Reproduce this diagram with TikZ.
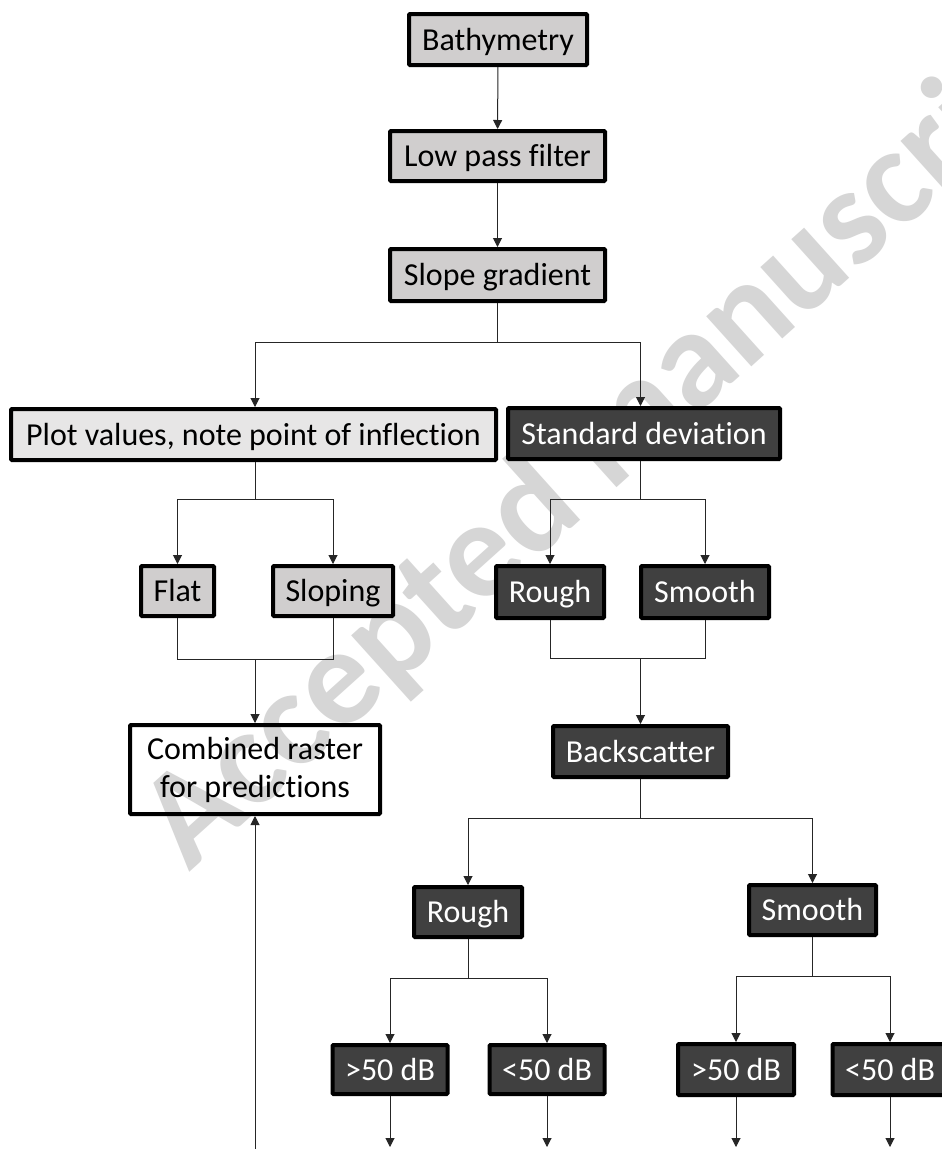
\documentclass[tikz,border=0pt]{standalone}
\usepackage{fontspec}
\setmainfont{Carlito}[Ligatures=NoCommon]
\usetikzlibrary{arrows.meta,calc}
\definecolor{lightbox}{HTML}{D0CECE}
\definecolor{palebox}{HTML}{E7E6E6}
\definecolor{darkbox}{HTML}{404040}
\definecolor{wmgray}{HTML}{D6D6D6}
\begin{document}
\begin{tikzpicture}[x=1pt,y=-1pt,
  box/.style={draw=black,line width=4pt,inner sep=0pt,rounded corners=1pt,
    font=\fontsize{32}{38}\selectfont},
  one/.style={box,text height=26pt,text depth=5pt},
  lbox/.style={one,fill=lightbox,text=black},
  pbox/.style={one,fill=palebox,text=black},
  wbox/.style={box,align=center,text=black},
  dbox/.style={one,fill=darkbox,text=white},
  conn/.style={draw=black!85,line width=1pt},
  arr/.style={conn,-{Triangle[length=9pt,width=9pt]}},
  wmark/.style={font=\fontsize{139}{139}\selectfont\bfseries,text=wmgray,inner sep=0pt,anchor=base west,rotate=42}]
\useasboundingbox (0,0) rectangle (942,1149);
\fill[white] (0,0) rectangle (942,1149);
% watermark
\node[wmark] (wm) at (189,873) {Accepted manuscript};
% nodes
\node[lbox,minimum width=178pt,minimum height=51pt] (bathy) at (498,39.5) {Bathymetry};
\node[lbox,minimum width=215pt,minimum height=50pt] (lpf) at (497.5,156) {Low pass filter};
\node[lbox,minimum width=215pt,minimum height=52pt] (slope) at (497.5,275) {Slope gradient};
\node[pbox,minimum width=485pt,minimum height=51pt] (plot) at (253.5,434.5) {Plot values, note point of inflection};
\node[dbox,minimum width=272pt,minimum height=51pt] (std) at (644,433.5) {Standard deviation};
\node[lbox,minimum width=73pt,minimum height=50pt] (flat) at (177.5,591) {Flat};
\node[lbox,minimum width=120pt,minimum height=50pt] (sloping) at (333,591) {Sloping};
\node[dbox,minimum width=108pt,minimum height=52pt] (rough) at (550,592) {Rough};
\node[dbox,minimum width=128pt,minimum height=52pt] (smooth) at (705,592) {Smooth};
\node[wbox,minimum width=250pt,minimum height=89pt] (comb) at (255,769.5) {Combined raster\\for predictions};
\node[dbox,minimum width=175pt,minimum height=51pt] (back) at (640.5,751.5) {Backscatter};
\node[dbox,minimum width=108pt,minimum height=50pt] (rough2) at (468,912) {Rough};
\node[dbox,minimum width=127pt,minimum height=50pt] (smooth2) at (812.5,910) {Smooth};
\node[dbox,minimum width=115pt,minimum height=49pt] (g1) at (390,1069.5) {>50 dB};
\node[dbox,minimum width=115pt,minimum height=49pt] (l1) at (547,1069.5) {<50 dB};
\node[dbox,minimum width=116pt,minimum height=51pt] (g2) at (736,1069.5) {>50 dB};
\node[dbox,minimum width=115pt,minimum height=51pt] (l2) at (890,1069.5) {<50 dB};
% junctions
\coordinate (j1) at (497.5,342);
\coordinate (j2) at (255,499);
\coordinate (j3) at (255,659);
\coordinate (j4) at (640.5,499);
\coordinate (j5) at (640.5,658);
\coordinate (j6) at (640.5,818);
\coordinate (j7) at (468,978);
\coordinate (j8) at (812.5,976);
\coordinate (bot) at (0,1147);
\coordinate (up) at (255,1149);
% connectors
\draw[arr] (bathy) -- (lpf);
\draw[arr] (lpf) -- (slope);
\draw[conn] (slope.south) -- (j1);
\draw[arr] (j1) -| (j2 |- plot.north);
\draw[arr] (j1) -| (j4 |- std.north);
\draw[conn] (j2 |- plot.south) -- (j2);
\draw[arr] (j2) -| (flat.north);
\draw[arr] (j2) -| (sloping.north);
\draw[conn] (flat.south) |- (j3);
\draw[conn] (sloping.south) |- (j3);
\draw[arr] (j3) -- (comb.north);
\draw[arr] (up) -- (comb.south);
\draw[conn] (j4 |- std.south) -- (j4);
\draw[arr] (j4) -| (rough.north);
\draw[arr] (j4) -| (smooth.north);
\draw[conn] (rough.south) |- (j5);
\draw[conn] (smooth.south) |- (j5);
\draw[arr] (j5) -- (back.north);
\draw[conn] (back.south) -- (j6);
\draw[arr] (j6) -| (rough2.north);
\draw[arr] (j6) -| (smooth2.north);
\draw[conn] (rough2.south) -- (j7);
\draw[arr] (j7) -| (g1.north);
\draw[arr] (j7) -| (l1.north);
\draw[conn] (smooth2.south) -- (j8);
\draw[arr] (j8) -| (g2.north);
\draw[arr] (j8) -| (l2.north);
\draw[arr] (g1.south) -- (g1.south |- bot);
\draw[arr] (l1.south) -- (l1.south |- bot);
\draw[arr] (g2.south) -- (g2.south |- bot);
\draw[arr] (l2.south) -- (l2.south |- bot);
\end{tikzpicture}
\end{document}
